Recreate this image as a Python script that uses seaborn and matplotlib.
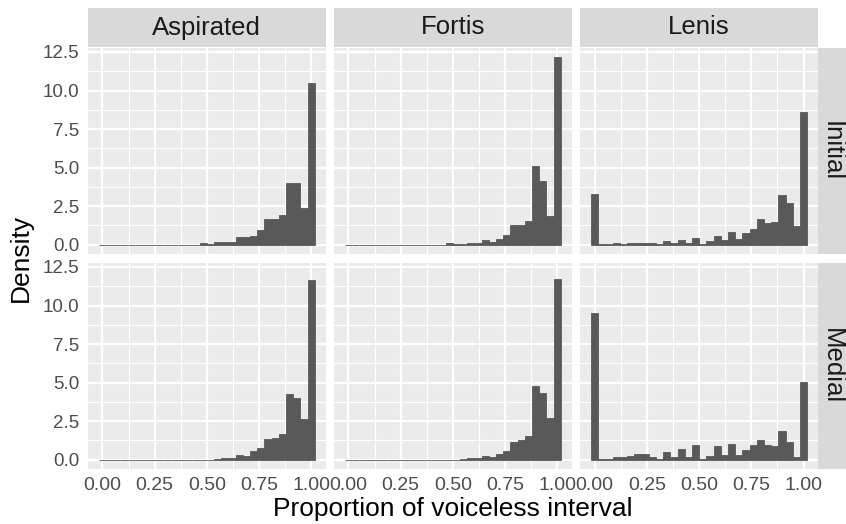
import numpy as np
import pandas as pd
import matplotlib
matplotlib.use("Agg")
import matplotlib.pyplot as plt
import seaborn as sns

# ---- data (density per bin, 30 bins centred at 0 .. 1) ----
manners = ["Aspirated", "Fortis", "Lenis"]
positions = ["Initial", "Medial"]
n_bins = 30

asp_initial = [0, 0, 0, 0, 0, 0, 0, 0, 0, 0, 0, 0, 0, 0, 0.11, 0.02, 0.17, 0.17, 0.17,
               0.48, 0.48, 0.54, 0.93, 1.64, 1.64, 1.90, 3.98, 3.98, 2.36, 10.47]
for_initial = [0, 0, 0, 0, 0, 0, 0, 0, 0, 0, 0, 0, 0, 0, 0.09, 0.02, 0.02, 0.09, 0.09,
               0.28, 0.15, 0.35, 0.61, 1.25, 1.25, 1.51, 5.08, 4.11, 1.84, 12.15]
len_initial = [3.27, 0.02, 0.02, 0.09, 0.02, 0.09, 0.09, 0.09, 0.09, 0.02, 0.22, 0.09,
               0.28, 0.09, 0.41, 0.02, 0.22, 0.54, 0.28, 0.80, 0.35, 0.74, 1.00, 1.64,
               1.38, 1.45, 3.20, 2.68, 1.19, 8.59]
asp_medial = [0, 0, 0, 0, 0, 0, 0, 0, 0, 0, 0, 0, 0, 0, 0, 0, 0.02, 0.09, 0.09,
              0.28, 0.22, 0.54, 0.74, 1.34, 1.41, 1.64, 4.24, 3.98, 2.62, 11.63]
for_medial = [0, 0, 0, 0, 0, 0, 0, 0, 0, 0, 0, 0, 0, 0, 0, 0, 0.02, 0.09, 0.09,
              0.22, 0.15, 0.35, 0.54, 1.12, 1.25, 1.51, 4.76, 4.30, 2.68, 11.70]
len_medial = [9.49, 0.02, 0.02, 0.15, 0.15, 0.22, 0.35, 0.35, 0.15, 0.02, 0.48, 0.15,
              0.67, 0.15, 0.93, 0.02, 0.22, 0.87, 0.28, 1.00, 0.28, 0.61, 0.93, 1.25,
              0.93, 0.87, 1.84, 1.12, 0.15, 5.02]

series = {
    ("Aspirated", "Initial"): asp_initial,
    ("Fortis", "Initial"): for_initial,
    ("Lenis", "Initial"): len_initial,
    ("Aspirated", "Medial"): asp_medial,
    ("Fortis", "Medial"): for_medial,
    ("Lenis", "Medial"): len_medial,
}

x_ticks = [0.0, 0.25, 0.5, 0.75, 1.0]
x_ticklabels = ["0.00", "0.25", "0.50", "0.75", "1.00"]
y_ticks = [0.0, 2.5, 5.0, 7.5, 10.0, 12.5]
y_ticklabels = ["0.0", "2.5", "5.0", "7.5", "10.0", "12.5"]

centers = np.linspace(0, 1, n_bins)
bw = centers[1] - centers[0]
lo, hi = centers[0] - bw / 2, centers[-1] + bw / 2

rows = []
for (m, p), vals in series.items():
    for c, v in zip(centers, vals):
        rows.append({"manner": m, "position": p, "x": float(c), "density": float(v)})
df = pd.DataFrame(rows)

# ---- styling ----
sns.set_theme(style="darkgrid")
plt.rcParams["font.family"] = ["Liberation Sans", "DejaVu Sans"]

W, H = 846, 524
fig = plt.figure(figsize=(W / 100, H / 100), dpi=100)

panel_x = [(88, 325.7), (334, 571.7), (580.3, 818)]
panel_y = [(48, 254), (263, 469)]

xpad = (hi - lo) * 0.05
ymax_data = df["density"].max()
ypad = ymax_data * 0.05

grid_bg = "#EBEBEB"
strip_bg = "#D9D9D9"
bar_col = "#595959"

for r, pos in enumerate(positions):
    for c, man in enumerate(manners):
        x0, x1 = panel_x[c]
        y0, y1 = panel_y[r]
        ax = fig.add_axes([x0 / W, 1 - y1 / H, (x1 - x0) / W, (y1 - y0) / H])
        ax.set_facecolor(grid_bg)
        sub = df[(df.manner == man) & (df.position == pos)].reset_index(drop=True)
        sns.histplot(data=sub, x="x", weights="density", bins=n_bins,
                     binrange=(lo, hi), stat="count",
                     color=bar_col, alpha=1, edgecolor=bar_col, linewidth=0.6, ax=ax)
        ax.set_xlim(lo - xpad, hi + xpad)
        ax.set_ylim(-ypad, ymax_data + ypad)
        ax.set_xticks(x_ticks)
        ax.set_yticks(y_ticks)
        ax.set_xticks([0.125, 0.375, 0.625, 0.875], minor=True)
        ax.set_yticks([1.25, 3.75, 6.25, 8.75, 11.25], minor=True)
        ax.grid(which="major", color="white", linewidth=1.6)
        ax.grid(which="minor", color="white", linewidth=0.8)
        ax.set_axisbelow(True)
        for s in ax.spines.values():
            s.set_visible(False)
        ax.set_xlabel("")
        ax.set_ylabel("")
        ax.tick_params(which="minor", length=0)
        ax.tick_params(which="major", length=3.6, width=0.8, color="#333333",
                       labelcolor="#4D4D4D", pad=2.5)
        ax.tick_params(axis="y", labelsize=13.5)
        ax.tick_params(axis="x", labelsize=14)
        if c == 0:
            ax.set_yticklabels(y_ticklabels)
        else:
            ax.tick_params(axis="y", length=0, labelleft=False)
        if r == 1:
            ax.set_xticklabels(x_ticklabels)
        else:
            ax.tick_params(axis="x", length=0, labelbottom=False)

# top strips
for c, man in enumerate(manners):
    x0, x1 = panel_x[c]
    sax = fig.add_axes([x0 / W, 1 - 47 / H, (x1 - x0) / W, 39 / H])
    sax.set_facecolor(strip_bg)
    sax.set_xticks([]); sax.set_yticks([])
    for s in sax.spines.values():
        s.set_visible(False)
    sax.text(0.5, 0.5, man, ha="center", va="center", fontsize=18.5,
             color="#1A1A1A", transform=sax.transAxes)

# right strips
for r, pos in enumerate(positions):
    y0, y1 = panel_y[r]
    sax = fig.add_axes([818 / W, 1 - y1 / H, 28 / W, (y1 - y0) / H])
    sax.set_facecolor(strip_bg)
    sax.set_xticks([]); sax.set_yticks([])
    for s in sax.spines.values():
        s.set_visible(False)
    sax.text(0.5, 0.5, pos, ha="center", va="center", fontsize=18.5, rotation=270,
             color="#1A1A1A", transform=sax.transAxes)

fig.text(453 / W, 1 - 509 / H, "Proportion of voiceless interval", ha="center",
         va="center", fontsize=19, color="black")
fig.text(21 / W, 1 - 258 / H, "Density", ha="center", va="center", rotation=90,
         fontsize=19, color="black")

fig.savefig("out.png", dpi=100, facecolor="white")
